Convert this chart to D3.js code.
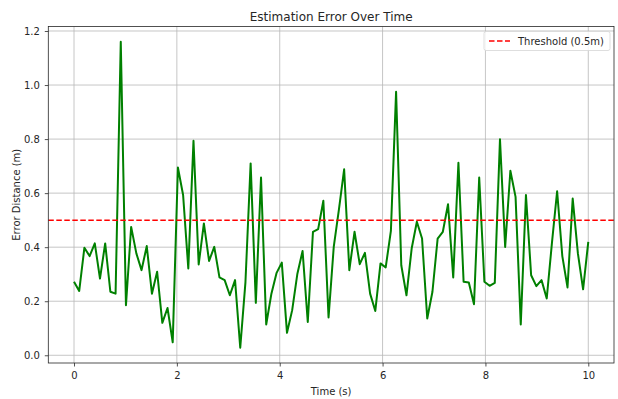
<!DOCTYPE html>
<html>
<head>
<meta charset="utf-8">
<script src="https://cdn.jsdelivr.net/npm/d3@7"></script>
<style>
  body { margin: 0; background: #fff; }
  text { font-family: "DejaVu Sans", sans-serif; fill: #262626; }
</style>
</head>
<body>
<div id="chart"></div>
<script>
// error distance per sample (m), 100 samples over 10 s
const errorValues = [
  0.272, 0.238, 0.398, 0.367, 0.414, 0.284, 0.414, 0.235, 0.228, 1.160,
  0.185, 0.475, 0.377, 0.315, 0.404, 0.228, 0.309, 0.120, 0.175, 0.048,
  0.695, 0.593, 0.321, 0.794, 0.336, 0.488, 0.349, 0.401, 0.288, 0.278,
  0.222, 0.278, 0.028, 0.270, 0.710, 0.194, 0.658, 0.114, 0.228, 0.305,
  0.343, 0.083, 0.167, 0.302, 0.386, 0.123, 0.457, 0.467, 0.572, 0.140,
  0.401, 0.540, 0.688, 0.315, 0.457, 0.337, 0.379, 0.228, 0.164, 0.340,
  0.325, 0.460, 0.975, 0.333, 0.222, 0.395, 0.494, 0.432, 0.136, 0.235,
  0.432, 0.457, 0.559, 0.288, 0.712, 0.272, 0.269, 0.189, 0.658, 0.272,
  0.257, 0.268, 0.799, 0.401, 0.683, 0.586, 0.114, 0.593, 0.296, 0.256,
  0.278, 0.210, 0.415, 0.607, 0.367, 0.251, 0.580, 0.377, 0.244, 0.420
];
const tMax = 10;
const threshold = 0.5;
const xTicks = [0, 2, 4, 6, 8, 10];
const yTicks = [0.0, 0.2, 0.4, 0.6, 0.8, 1.0, 1.2];
const titleText = 'Estimation Error Over Time';
const xLabel = 'Time (s)';
const yLabel = 'Error Distance (m)';
const legendLabel = 'Threshold (0.5m)';

const W = 618, H = 399;
const margin = { top: 26.5, right: 4, bottom: 36, left: 48.3 };
const width = W - margin.left - margin.right;
const height = H - margin.top - margin.bottom;

// evenly spaced sample times, like np.linspace(0, 10, 100)
const times = errorValues.map((_, i) => i * tMax / (errorValues.length - 1));
const data = errorValues.map((v, i) => ({ t: times[i], v }));

const svg = d3.select('#chart').append('svg')
  .attr('width', W)
  .attr('height', H);

const g = svg.append('g')
  .attr('transform', `translate(${margin.left},${margin.top})`);

// matplotlib style 5% padding
const yMin = d3.min(errorValues), yMax = d3.max(errorValues);
const yPad = (yMax - yMin) * 0.05;
const x = d3.scaleLinear().domain([-tMax * 0.05, tMax * 1.05]).range([0, width]);
const y = d3.scaleLinear().domain([yMin - yPad, yMax + yPad]).range([height, 0]);

// grid
g.append('g')
  .selectAll('line')
  .data(xTicks)
  .enter()
  .append('line')
  .attr('x1', d => x(d)).attr('x2', d => x(d))
  .attr('y1', 0).attr('y2', height)
  .attr('stroke', '#b8b8b8')
  .attr('stroke-width', 0.8);

g.append('g')
  .selectAll('line')
  .data(yTicks)
  .enter()
  .append('line')
  .attr('x1', 0).attr('x2', width)
  .attr('y1', d => y(d)).attr('y2', d => y(d))
  .attr('stroke', '#b8b8b8')
  .attr('stroke-width', 0.8);

// error line
const line = d3.line()
  .x(d => x(d.t))
  .y(d => y(d.v));

g.append('path')
  .datum(data)
  .attr('fill', 'none')
  .attr('stroke', 'green')
  .attr('stroke-width', 2)
  .attr('stroke-linejoin', 'round')
  .attr('d', line);

// threshold
g.append('line')
  .attr('x1', 0).attr('x2', width)
  .attr('y1', y(threshold)).attr('y2', y(threshold))
  .attr('stroke', 'red')
  .attr('stroke-width', 1.5)
  .attr('stroke-dasharray', '5.5,2.5');

// X axis
const xAxis = g.append('g')
  .attr('transform', `translate(0,${height})`)
  .call(d3.axisBottom(x).tickValues(xTicks).tickSize(3.5).tickPadding(5).tickFormat(d3.format('d')));
xAxis.select('.domain').remove();
xAxis.selectAll('line').attr('stroke', '#262626').attr('stroke-width', 0.8);
xAxis.selectAll('text').style('font-size', '10px').style('fill', '#262626');

// Y axis
const yAxis = g.append('g')
  .call(d3.axisLeft(y).tickValues(yTicks).tickSize(3.5).tickPadding(5).tickFormat(d3.format('.1f')));
yAxis.select('.domain').remove();
yAxis.selectAll('line').attr('stroke', '#262626').attr('stroke-width', 0.8);
yAxis.selectAll('text').style('font-size', '10px').style('fill', '#262626');

// frame
g.append('rect')
  .attr('width', width)
  .attr('height', height)
  .attr('fill', 'none')
  .attr('stroke', '#262626')
  .attr('stroke-width', 0.8);

// title
svg.append('text')
  .attr('x', margin.left + width / 2)
  .attr('y', margin.top - 6)
  .attr('text-anchor', 'middle')
  .style('font-size', '12px')
  .text(titleText);

// X label
svg.append('text')
  .attr('x', margin.left + width / 2)
  .attr('y', H - 4)
  .attr('text-anchor', 'middle')
  .style('font-size', '10px')
  .text(xLabel);

// Y label
svg.append('text')
  .attr('transform', 'rotate(-90)')
  .attr('x', -(margin.top + height / 2))
  .attr('y', 20)
  .attr('text-anchor', 'middle')
  .style('font-size', '10px')
  .text(yLabel);

// legend
const legend = g.append('g')
  .attr('transform', `translate(${width - 130},5)`);
legend.append('rect')
  .attr('width', 126)
  .attr('height', 19)
  .attr('rx', 2)
  .attr('fill', 'white')
  .attr('fill-opacity', 0.85)
  .attr('stroke', '#d6d6d6')
  .attr('stroke-width', 0.8);
legend.append('line')
  .attr('x1', 5).attr('x2', 26)
  .attr('y1', 9.5).attr('y2', 9.5)
  .attr('stroke', 'red')
  .attr('stroke-width', 1.5)
  .attr('stroke-dasharray', '5.5,2.5');
legend.append('text')
  .attr('x', 34)
  .attr('y', 13)
  .style('font-size', '10px')
  .text(legendLabel);
</script>
</body>
</html>
